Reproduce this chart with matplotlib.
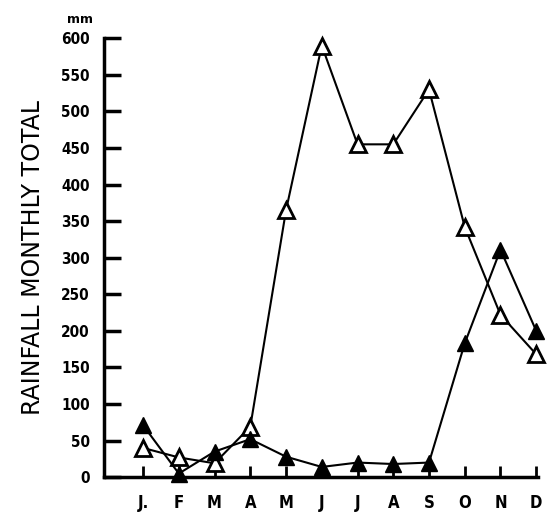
import matplotlib.pyplot as plt
import numpy as np

# Datos
months = ['J.', 'F', 'M', 'A', 'M', 'J', 'J', 'A', 'S', 'O', 'N', 'D']
open_series = [40, 27, 19, 69, 365, 590, 455, 455, 530, 342, 222, 168]
filled_series = [71, 5, 35, 52, 28, 14, 20, 18, 20, 183, 311, 200]
yticks = [0, 50, 100, 150, 200, 250, 300, 350, 400, 450, 500, 550, 600]

fig = plt.figure(figsize=(5.49, 5.17), dpi=100)
ax = fig.add_axes([0.189, 0.077, 0.791, 0.849])

x = np.arange(len(months))
ax.plot(x, open_series, color='black', lw=1.5, marker='^', ms=11,
        mfc='white', mec='black', mew=2, zorder=3, clip_on=False)
ax.plot(x, filled_series, color='black', lw=1.5, marker='^', ms=11,
        mfc='black', mec='black', mew=1, zorder=4, clip_on=False)

ax.set_xlim(-1.1, 11.05)
ax.set_ylim(0, 600)
ax.set_xticks(x)
ax.set_xticklabels(months)
ax.set_yticks(yticks)

for side in ['top', 'right']:
    ax.spines[side].set_visible(False)
for side in ['left', 'bottom']:
    ax.spines[side].set_linewidth(2.5)

ax.tick_params(axis='y', direction='in', length=12, width=2.5, pad=10,
               labelsize=11)
ax.tick_params(axis='x', direction='in', length=8, width=2, pad=12,
               labelsize=12)
for lbl in ax.get_xticklabels() + ax.get_yticklabels():
    lbl.set_fontweight('bold')
    lbl.set_fontstretch('condensed')

ax.set_ylabel('RAINFALL MONTHLY TOTAL', fontsize=17, labelpad=12)
fig.text(0.145, 0.955, 'mm', fontsize=9, fontweight='bold', ha='center')

plt.savefig('out.png', dpi=100)
